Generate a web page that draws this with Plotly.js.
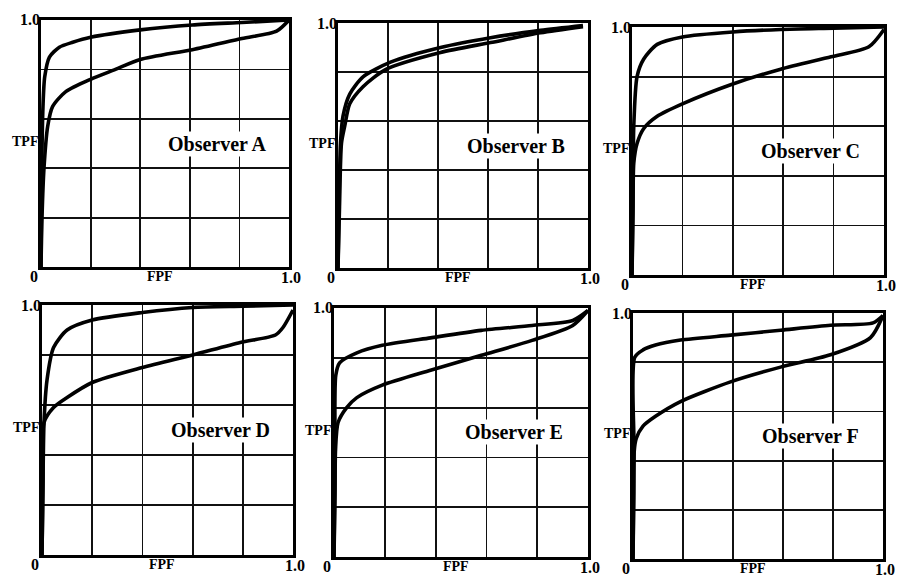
<!DOCTYPE html>
<html>
<head>
<meta charset="utf-8">
<script src="https://cdn.plot.ly/plotly-3.0.1.min.js"></script>
<style>
  html, body { margin: 0; padding: 0; background: #fff; }
  #chart { width: 897px; height: 578px; }
</style>
</head>
<body>
<div id="chart"></div>
<script>
// ROC curves (TPF vs FPF) for six observers, two curves each.
const observers = ["A", "B", "C", "D", "E", "F"];

// Observer A
const fpfA1 = [0, 0.003, 0.008, 0.015, 0.034, 0.074, 0.128, 0.2, 0.4, 0.61, 0.81, 1];
const tpfA1 = [0, 0.40, 0.65, 0.77, 0.85, 0.89, 0.91, 0.93, 0.96, 0.98, 0.99, 1];
const fpfA2 = [0, 0.004, 0.012, 0.027, 0.047, 0.1, 0.2, 0.3, 0.4, 0.61, 0.81, 0.95, 1];
const tpfA2 = [0, 0.20, 0.40, 0.57, 0.65, 0.71, 0.76, 0.80, 0.84, 0.88, 0.925, 0.955, 1];

// Observer B
const fpfB1 = [0, 0.004, 0.01, 0.02, 0.047, 0.1, 0.21, 0.41, 0.61, 0.81, 0.98];
const tpfB1 = [0, 0.25, 0.51, 0.62, 0.71, 0.78, 0.84, 0.90, 0.94, 0.97, 0.99];
const fpfB2 = [0, 0.006, 0.014, 0.027, 0.047, 0.1, 0.19, 0.41, 0.61, 0.81, 0.98];
const tpfB2 = [0, 0.25, 0.51, 0.58, 0.67, 0.74, 0.81, 0.88, 0.92, 0.96, 0.985];

// Observer C
const fpfC1 = [0, 0.004, 0.007, 0.02, 0.046, 0.1, 0.2, 0.4, 0.59, 0.8, 1];
const tpfC1 = [0, 0.35, 0.60, 0.80, 0.87, 0.93, 0.96, 0.98, 0.99, 0.995, 1];
const fpfC2 = [0, 0.004, 0.007, 0.02, 0.046, 0.1, 0.2, 0.4, 0.59, 0.79, 0.94, 1];
const tpfC2 = [0, 0.25, 0.45, 0.53, 0.59, 0.64, 0.69, 0.77, 0.83, 0.88, 0.92, 0.99];

// Observer D
const fpfD1 = [0, 0.004, 0.008, 0.02, 0.046, 0.1, 0.2, 0.4, 0.6, 0.8, 1];
const tpfD1 = [0, 0.30, 0.53, 0.70, 0.83, 0.90, 0.94, 0.97, 0.99, 0.995, 1];
const fpfD2 = [0, 0.004, 0.008, 0.046, 0.1, 0.2, 0.4, 0.6, 0.79, 0.93, 0.96, 1];
const tpfD2 = [0, 0.30, 0.53, 0.59, 0.63, 0.69, 0.75, 0.80, 0.85, 0.88, 0.91, 0.98];

// Observer E
const fpfE1 = [0, 0.004, 0.007, 0.022, 0.09, 0.19, 0.38, 0.58, 0.78, 0.94, 1];
const tpfE1 = [0, 0.40, 0.73, 0.78, 0.82, 0.85, 0.88, 0.91, 0.93, 0.95, 0.99];
const fpfE2 = [0, 0.004, 0.006, 0.016, 0.05, 0.09, 0.19, 0.38, 0.58, 0.78, 0.94, 1];
const tpfE2 = [0, 0.25, 0.43, 0.54, 0.60, 0.64, 0.69, 0.75, 0.81, 0.87, 0.93, 0.99];

// Observer F
const fpfF1 = [0, 0.004, 0.007, 0.04, 0.09, 0.19, 0.39, 0.59, 0.79, 0.96, 1];
const tpfF1 = [0, 0.45, 0.82, 0.85, 0.87, 0.89, 0.91, 0.93, 0.95, 0.96, 0.99];
const fpfF2 = [0, 0.003, 0.005, 0.013, 0.04, 0.09, 0.19, 0.39, 0.59, 0.79, 0.95, 1];
const tpfF2 = [0, 0.25, 0.44, 0.49, 0.54, 0.58, 0.64, 0.72, 0.78, 0.83, 0.90, 0.99];

const curves = {
  A: [[fpfA1, tpfA1], [fpfA2, tpfA2]],
  B: [[fpfB1, tpfB1], [fpfB2, tpfB2]],
  C: [[fpfC1, tpfC1], [fpfC2, tpfC2]],
  D: [[fpfD1, tpfD1], [fpfD2, tpfD2]],
  E: [[fpfE1, tpfE1], [fpfE2, tpfE2]],
  F: [[fpfF1, tpfF1], [fpfF2, tpfF2]]
};

// Panel placement in pixels: left, right, top, bottom
const W = 897, H = 578;
const boxes = [
  [41, 289, 20, 267],
  [338, 588, 23, 268],
  [632, 884, 27, 275],
  [42, 293, 305, 555],
  [334, 588, 308, 557],
  [633, 883, 313, 559]
];

const serif = "'Liberation Serif', 'DejaVu Serif', 'Times New Roman', serif";
const traces = [];
const annotations = [];
const layout = {
  width: W, height: H,
  margin: { l: 0, r: 0, t: 0, b: 0 },
  paper_bgcolor: "#fff",
  plot_bgcolor: "#fff",
  showlegend: false,
  font: { family: serif, color: "#000" },
  annotations: annotations
};

observers.forEach((obs, i) => {
  const n = i + 1;
  const xa = n === 1 ? "x" : "x" + n;
  const ya = n === 1 ? "y" : "y" + n;
  const [px0, px1, py0, py1] = boxes[i];
  const axisCommon = {
    range: [0, 1],
    dtick: 0.2,
    tick0: 0,
    showgrid: true,
    gridcolor: "#111",
    gridwidth: 1.8,
    zeroline: false,
    showline: true,
    linecolor: "#000",
    linewidth: 3,
    mirror: true,
    showticklabels: false,
    ticks: "",
    fixedrange: true
  };
  layout["xaxis" + (n === 1 ? "" : n)] = Object.assign({}, axisCommon, {
    domain: [px0 / W, px1 / W], anchor: ya
  });
  layout["yaxis" + (n === 1 ? "" : n)] = Object.assign({}, axisCommon, {
    domain: [1 - py1 / H, 1 - py0 / H], anchor: xa
  });

  curves[obs].forEach(([xs, ys]) => {
    traces.push({
      x: xs, y: ys, xaxis: xa, yaxis: ya,
      type: "scatter", mode: "lines",
      line: { color: "#000", width: 3.6, shape: "spline", smoothing: 0.7 },
      hoverinfo: "skip",
      cliponaxis: false
    });
  });

  const bold = (s) => "<b>" + s + "</b>";
  const f = (size) => ({ family: serif, size: size, color: "#000" });
  annotations.push(
    { xref: xa, yref: ya, x: 0, y: 1, text: bold("1.0"), showarrow: false,
      xanchor: "right", yanchor: "middle", xshift: 1, font: f(16) },
    { xref: xa, yref: ya, x: 0, y: 0, text: bold("0"), showarrow: false,
      xanchor: "center", yanchor: "middle", xshift: -7, yshift: -9, font: f(16) },
    { xref: xa, yref: ya, x: 1, y: 0, text: bold("1.0"), showarrow: false,
      xanchor: "center", yanchor: "middle", xshift: 2, yshift: -10, font: f(16) },
    { xref: xa, yref: ya, x: 0.48, y: 0, text: bold("FPF"), showarrow: false,
      xanchor: "center", yanchor: "middle", yshift: -9, font: f(14) },
    { xref: xa, yref: ya, x: 0, y: 0.51, text: bold("TPF"), showarrow: false,
      xanchor: "right", yanchor: "middle", xshift: -1, font: f(14) },
    { xref: xa, yref: ya, x: 0.71, y: 0.5, text: bold("Observer " + obs), showarrow: false,
      xanchor: "center", yanchor: "middle", font: f(20),
      bgcolor: "#fff" }
  );
});

Plotly.newPlot("chart", traces, layout, { staticPlot: true, displayModeBar: false });
</script>
</body>
</html>
